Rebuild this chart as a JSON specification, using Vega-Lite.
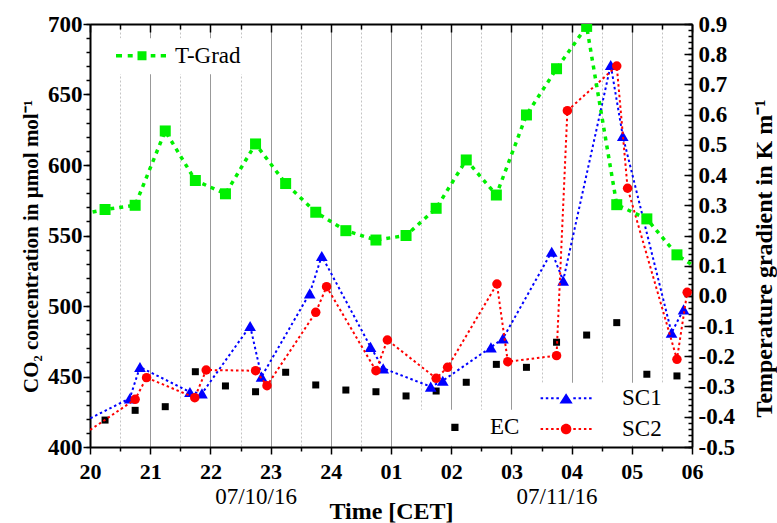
{
  "$schema": "https://vega.github.io/schema/vega-lite/v6.json",
  "width": 602,
  "height": 423,
  "autosize": "none",
  "padding": {"left": 90, "top": 24, "right": 85, "bottom": 76},
  "background": "white",
  "config": {
    "view": {"stroke": null},
    "font": "Liberation Serif",
    "axis": {
      "labelFont": "Liberation Serif", "labelFontSize": 22, "labelFontWeight": "bold", "labelColor": "#000000",
      "labelFlush": false, "labelOverlap": false,
      "tickColor": "#000000", "tickWidth": 1.5,
      "domainColor": "#000000", "domainWidth": 2,
      "titleFont": "Liberation Serif", "titleFontWeight": "bold", "titleColor": "#000000",
      "grid": false
    },
    "legend": {
      "labelFont": "Liberation Serif", "labelFontSize": 23, "labelColor": "#000000",
      "fillColor": "white", "symbolStrokeWidth": 0, "symbolOpacity": 1,
      "symbolSize": 144, "symbolOffset": 21
    }
  },
  "datasets": {
    "co2": [
      {"series": "SC1", "time": -0.15, "co2": 417},
      {"series": "SC1", "time": 0.66, "co2": 434.5},
      {"series": "SC1", "time": 0.83, "co2": 456.7},
      {"series": "SC1", "time": 1.66, "co2": 439},
      {"series": "SC1", "time": 1.86, "co2": 438},
      {"series": "SC1", "time": 2.66, "co2": 485.8},
      {"series": "SC1", "time": 2.85, "co2": 449.9},
      {"series": "SC1", "time": 3.65, "co2": 509},
      {"series": "SC1", "time": 3.85, "co2": 535.5},
      {"series": "SC1", "time": 4.66, "co2": 471},
      {"series": "SC1", "time": 4.87, "co2": 455.8},
      {"series": "SC1", "time": 5.66, "co2": 442.8},
      {"series": "SC1", "time": 5.86, "co2": 447},
      {"series": "SC1", "time": 6.66, "co2": 470.7},
      {"series": "SC1", "time": 6.86, "co2": 477},
      {"series": "SC1", "time": 7.67, "co2": 538.5},
      {"series": "SC1", "time": 7.86, "co2": 518},
      {"series": "SC1", "time": 8.65, "co2": 670.9},
      {"series": "SC1", "time": 8.85, "co2": 620.6},
      {"series": "SC1", "time": 9.66, "co2": 481},
      {"series": "SC1", "time": 9.86, "co2": 497.6},
      {"series": "SC2", "time": -0.07, "co2": 410},
      {"series": "SC2", "time": 0.75, "co2": 433.8},
      {"series": "SC2", "time": 0.94, "co2": 449.2},
      {"series": "SC2", "time": 1.74, "co2": 435},
      {"series": "SC2", "time": 1.93, "co2": 454.6},
      {"series": "SC2", "time": 2.75, "co2": 454.1},
      {"series": "SC2", "time": 2.94, "co2": 443.5},
      {"series": "SC2", "time": 3.75, "co2": 495.5},
      {"series": "SC2", "time": 3.93, "co2": 513.7},
      {"series": "SC2", "time": 4.75, "co2": 454.1},
      {"series": "SC2", "time": 4.94, "co2": 475.9},
      {"series": "SC2", "time": 5.75, "co2": 448.7},
      {"series": "SC2", "time": 5.94, "co2": 456.5},
      {"series": "SC2", "time": 6.76, "co2": 515.6},
      {"series": "SC2", "time": 6.94, "co2": 460.5},
      {"series": "SC2", "time": 7.75, "co2": 464.8},
      {"series": "SC2", "time": 7.93, "co2": 638.5},
      {"series": "SC2", "time": 8.75, "co2": 670.2},
      {"series": "SC2", "time": 8.93, "co2": 583.5},
      {"series": "SC2", "time": 9.75, "co2": 462.2},
      {"series": "SC2", "time": 9.92, "co2": 509.7},
      {"series": "EC", "time": 0.25, "co2": 419.1},
      {"series": "EC", "time": 0.75, "co2": 426},
      {"series": "EC", "time": 1.25, "co2": 428.6},
      {"series": "EC", "time": 1.75, "co2": 453.4},
      {"series": "EC", "time": 2.25, "co2": 443.3},
      {"series": "EC", "time": 2.75, "co2": 439.2},
      {"series": "EC", "time": 3.25, "co2": 453},
      {"series": "EC", "time": 3.75, "co2": 444},
      {"series": "EC", "time": 4.25, "co2": 440.4},
      {"series": "EC", "time": 4.75, "co2": 439.2},
      {"series": "EC", "time": 5.25, "co2": 436.2},
      {"series": "EC", "time": 5.75, "co2": 439.7},
      {"series": "EC", "time": 6.25, "co2": 445.9},
      {"series": "EC", "time": 6.75, "co2": 458.6},
      {"series": "EC", "time": 7.25, "co2": 456.5},
      {"series": "EC", "time": 7.75, "co2": 474.3},
      {"series": "EC", "time": 8.25, "co2": 479.4},
      {"series": "EC", "time": 8.75, "co2": 488.2},
      {"series": "EC", "time": 9.25, "co2": 451.6},
      {"series": "EC", "time": 9.75, "co2": 450.4}
    ],
    "grad": [
      {"time": -0.25, "grad": 0.266},
      {"time": 0.25, "grad": 0.286},
      {"time": 0.75, "grad": 0.3},
      {"time": 1.25, "grad": 0.546},
      {"time": 1.75, "grad": 0.382},
      {"time": 2.25, "grad": 0.338},
      {"time": 2.75, "grad": 0.503},
      {"time": 3.25, "grad": 0.372},
      {"time": 3.75, "grad": 0.277},
      {"time": 4.25, "grad": 0.216},
      {"time": 4.75, "grad": 0.185},
      {"time": 5.25, "grad": 0.2},
      {"time": 5.75, "grad": 0.29},
      {"time": 6.25, "grad": 0.45},
      {"time": 6.75, "grad": 0.334},
      {"time": 7.25, "grad": 0.599},
      {"time": 7.75, "grad": 0.752},
      {"time": 8.25, "grad": 0.892},
      {"time": 8.75, "grad": 0.302},
      {"time": 9.25, "grad": 0.255},
      {"time": 9.75, "grad": 0.136},
      {"time": 10.25, "grad": 0.07}
    ]
  },
  "layer": [
    {
      "layer": [
        {
          "data": {"name": "co2"},
          "transform": [{"filter": "datum.series === 'EC'"}],
          "mark": {"type": "point", "shape": "square", "filled": true, "size": 49, "opacity": 1, "clip": true},
          "encoding": {
            "x": {
              "field": "time", "type": "quantitative",
              "scale": {"domain": [0, 10], "nice": false, "zero": false},
              "axis": {
                "orient": "bottom", "values": [0, 1, 2, 3, 4, 5, 6, 7, 8, 9, 10],
                "labelExpr": "datum.value <= 4 ? format(20 + datum.value, 'd') : '0' + format(datum.value - 4, 'd')",
                "tickSize": 7, "labelPadding": 7,
                "grid": true, "gridColor": "#999999", "gridWidth": 1, "title": null
              }
            },
            "y": {
              "field": "co2", "type": "quantitative",
              "scale": {"domain": [400, 700], "nice": false, "zero": false},
              "axis": {
                "orient": "left", "values": [400, 450, 500, 550, 600, 650, 700],
                "tickSize": 7, "labelPadding": 1, "labelFontSize": 23,
                "title": "CO₂ concentration in µmol mol⁻¹",
                "titleFontSize": 21, "titleAngle": 270, "titleAlign": "center", "titleBaseline": "alphabetic",
                "titleX": -53, "titleY": 222
              }
            },
            "color": {
              "field": "series", "type": "nominal",
              "scale": {"domain": ["EC"], "range": ["#000000"]},
              "legend": {
                "title": null, "orient": "none", "legendX": 326.4, "legendY": 385.8, "padding": 6,
                "labelOffset": 23.6,
                "symbolType": "M-4.5,0L-4.5,0M4.5,0L4.5,0M-0.6,-0.6H0.6V0.6H-0.6Z"
              }
            }
          }
        },
        {
          "data": {"name": "co2"},
          "transform": [{"filter": "datum.series === 'SC1'"}],
          "mark": {"type": "line", "color": "#0000ff", "strokeWidth": 2, "strokeDash": [2.5, 2.8], "clip": true},
          "encoding": {
            "x": {
              "field": "time", "type": "quantitative",
              "scale": {"domain": [0, 10], "nice": false, "zero": false},
              "axis": {
                "orient": "bottom", "values": [0.5, 1.5, 2.5, 3.5, 4.5, 5.5, 6.5, 7.5, 8.5, 9.5],
                "tickSize": 4, "labels": false, "domain": false,
                "grid": true, "gridColor": "#c4c4c4", "gridWidth": 1, "gridDash": [2, 2], "title": null
              }
            },
            "y": {
              "field": "co2", "type": "quantitative",
              "scale": {"domain": [400, 700], "nice": false, "zero": false},
              "axis": {
                "orient": "left",
                "values": [400, 410, 420, 430, 440, 450, 460, 470, 480, 490, 500, 510, 520, 530, 540, 550, 560, 570, 580, 590, 600, 610, 620, 630, 640, 650, 660, 670, 680, 690, 700],
                "tickSize": 4, "labels": false, "domain": false, "title": null
              }
            }
          }
        },
        {
          "data": {"name": "co2"},
          "transform": [{"filter": "datum.series === 'SC1' && datum.time >= 0 && datum.time <= 10"}],
          "mark": {"type": "point", "shape": "triangle-up", "filled": true, "size": 137, "opacity": 1, "clip": true},
          "encoding": {
            "x": {
              "field": "time", "type": "quantitative",
              "scale": {"domain": [0, 10], "nice": false, "zero": false},
              "axis": {
                "orient": "bottom", "values": [2.75, 7.75],
                "labelExpr": "datum.value < 5 ? '07/10/16' : '07/11/16'",
                "ticks": false, "domain": false, "labelPadding": 38,
                "labelFontWeight": "normal", "labelFontSize": 23,
                "title": "Time [CET]", "titleFontSize": 24,
                "titleX": 301, "titleY": 71, "titleAlign": "center", "titleBaseline": "alphabetic"
              }
            },
            "y": {
              "field": "co2", "type": "quantitative",
              "scale": {"domain": [400, 700], "nice": false, "zero": false},
              "axis": null
            },
            "color": {
              "field": "series", "type": "nominal",
              "scale": {"domain": ["SC1"], "range": ["#0000ff"]},
              "legend": {
                "title": null, "orient": "none", "legendX": 439.6, "legendY": 358.8, "padding": 4,
                "labelOffset": 44.4,
                "symbolType": "M-4.25,-0.17H-3.83V0.17H-4.25ZM-3.38,-0.17H-2.97V0.17H-3.38ZM-2.5,-0.17H-2.08V0.17H-2.5ZM-1.62,-0.17H-1.2V0.17H-1.62ZM1.2,-0.17H1.62V0.17H1.2ZM2.08,-0.17H2.5V0.17H2.08ZM2.97,-0.17H3.38V0.17H2.97ZM3.83,-0.17H4.25V0.17H3.83ZM0,-0.85L1.1,0.85L-1.1,0.85Z"
              }
            }
          }
        },
        {
          "data": {"name": "co2"},
          "transform": [{"filter": "datum.series === 'SC2'"}],
          "mark": {"type": "line", "color": "#ff0000", "strokeWidth": 2, "strokeDash": [2.5, 2.8], "clip": true},
          "encoding": {
            "x": {"field": "time", "type": "quantitative", "scale": {"domain": [0, 10], "nice": false, "zero": false}, "axis": null},
            "y": {"field": "co2", "type": "quantitative", "scale": {"domain": [400, 700], "nice": false, "zero": false}, "axis": null}
          }
        },
        {
          "data": {"name": "co2"},
          "transform": [{"filter": "datum.series === 'SC2' && datum.time >= 0 && datum.time <= 10"}],
          "mark": {"type": "point", "shape": "circle", "filled": true, "size": 90, "opacity": 1, "clip": true},
          "encoding": {
            "x": {"field": "time", "type": "quantitative", "scale": {"domain": [0, 10], "nice": false, "zero": false}, "axis": null},
            "y": {"field": "co2", "type": "quantitative", "scale": {"domain": [400, 700], "nice": false, "zero": false}, "axis": null},
            "color": {
              "field": "series", "type": "nominal",
              "scale": {"domain": ["SC2"], "range": ["#ff0000"]},
              "legend": {
                "title": null, "orient": "none", "legendX": 439.6, "legendY": 389.5, "padding": 4,
                "labelOffset": 44.4,
                "symbolType": "M-4.25,-0.17H-3.83V0.17H-4.25ZM-3.38,-0.17H-2.97V0.17H-3.38ZM-2.5,-0.17H-2.08V0.17H-2.5ZM-1.62,-0.17H-1.2V0.17H-1.62ZM1.2,-0.17H1.62V0.17H1.2ZM2.08,-0.17H2.5V0.17H2.08ZM2.97,-0.17H3.38V0.17H2.97ZM3.83,-0.17H4.25V0.17H3.83ZM-0.88,0A0.88,0.88 0 1,0 0.88,0A0.88,0.88 0 1,0 -0.88,0Z"
              }
            }
          }
        }
      ],
      "resolve": {"scale": {"color": "independent"}, "axis": {"x": "independent", "y": "independent"}}
    },
    {
      "layer": [
        {
          "data": {"name": "grad"},
          "mark": {"type": "line", "color": "#00f000", "strokeWidth": 3.5, "strokeDash": [4, 5], "clip": true},
          "encoding": {
            "x": {
              "field": "time", "type": "quantitative",
              "scale": {"domain": [0, 10], "nice": false, "zero": false},
              "axis": {
                "orient": "top", "values": [0, 1, 2, 3, 4, 5, 6, 7, 8, 9, 10],
                "tickSize": -8, "labels": false, "title": null
              }
            },
            "y": {
              "field": "grad", "type": "quantitative",
              "scale": {"domain": [-0.5, 0.9], "nice": false, "zero": false},
              "axis": {
                "orient": "right",
                "values": [-0.5, -0.4, -0.3, -0.2, -0.1, 0, 0.1, 0.2, 0.3, 0.4, 0.5, 0.6, 0.7, 0.8, 0.9],
                "labelExpr": "replace(format(datum.value, '.1f'), '\u2212', '-')",
                "tickSize": -8, "labelPadding": 14, "labelFontSize": 23,
                "title": "Temperature gradient in K m⁻¹",
                "titleFontSize": 24, "titleAngle": 270, "titleAlign": "center", "titleBaseline": "alphabetic",
                "titleX": 79, "titleY": 234
              }
            }
          }
        },
        {
          "data": {"name": "grad"},
          "transform": [{"filter": "datum.time >= 0 && datum.time <= 10"}],
          "mark": {"type": "point", "shape": "square", "filled": true, "size": 121, "opacity": 1, "clip": true},
          "encoding": {
            "x": {
              "field": "time", "type": "quantitative",
              "scale": {"domain": [0, 10], "nice": false, "zero": false},
              "axis": {
                "orient": "top", "values": [0.5, 1.5, 2.5, 3.5, 4.5, 5.5, 6.5, 7.5, 8.5, 9.5],
                "tickSize": -5, "labels": false, "domain": false, "title": null
              }
            },
            "y": {
              "field": "grad", "type": "quantitative",
              "scale": {"domain": [-0.5, 0.9], "nice": false, "zero": false},
              "axis": {
                "orient": "right",
                "values": [-0.5, -0.48, -0.46, -0.44, -0.42, -0.4, -0.38, -0.36, -0.34, -0.32, -0.3, -0.28, -0.26, -0.24, -0.22, -0.2, -0.18, -0.16, -0.14, -0.12, -0.1, -0.08, -0.06, -0.04, -0.02, 0, 0.02, 0.04, 0.06, 0.08, 0.1, 0.12, 0.14, 0.16, 0.18, 0.2, 0.22, 0.24, 0.26, 0.28, 0.3, 0.32, 0.34, 0.36, 0.38, 0.4, 0.42, 0.44, 0.46, 0.48, 0.5, 0.52, 0.54, 0.56, 0.58, 0.6, 0.62, 0.64, 0.66, 0.68, 0.7, 0.72, 0.74, 0.76, 0.78, 0.8, 0.82, 0.84, 0.86, 0.88, 0.9],
                "tickSize": -4, "labels": false, "domain": false, "title": null
              }
            },
            "color": {
              "datum": "T-Grad", "type": "nominal",
              "scale": {"domain": ["T-Grad"], "range": ["#00f000"]},
              "legend": {
                "title": null, "orient": "none", "legendX": 13.5, "legendY": 14.2, "padding": 6,
                "labelOffset": 21.5,
                "symbolType": "M-4.33,-0.29H-3.33V0.29H-4.33ZM-2.38,-0.29H-1.55V0.29H-2.38ZM1.45,-0.29H2.23V0.29H1.45ZM3.12,-0.29H4V0.29H3.12ZM-0.75,-0.75H0.75V0.75H-0.75Z"
              }
            }
          }
        }
      ],
      "resolve": {"scale": {"color": "independent"}, "axis": {"x": "independent", "y": "independent"}}
    }
  ],
  "resolve": {"scale": {"y": "independent", "color": "independent"}, "axis": {"x": "independent", "y": "independent"}}
}
